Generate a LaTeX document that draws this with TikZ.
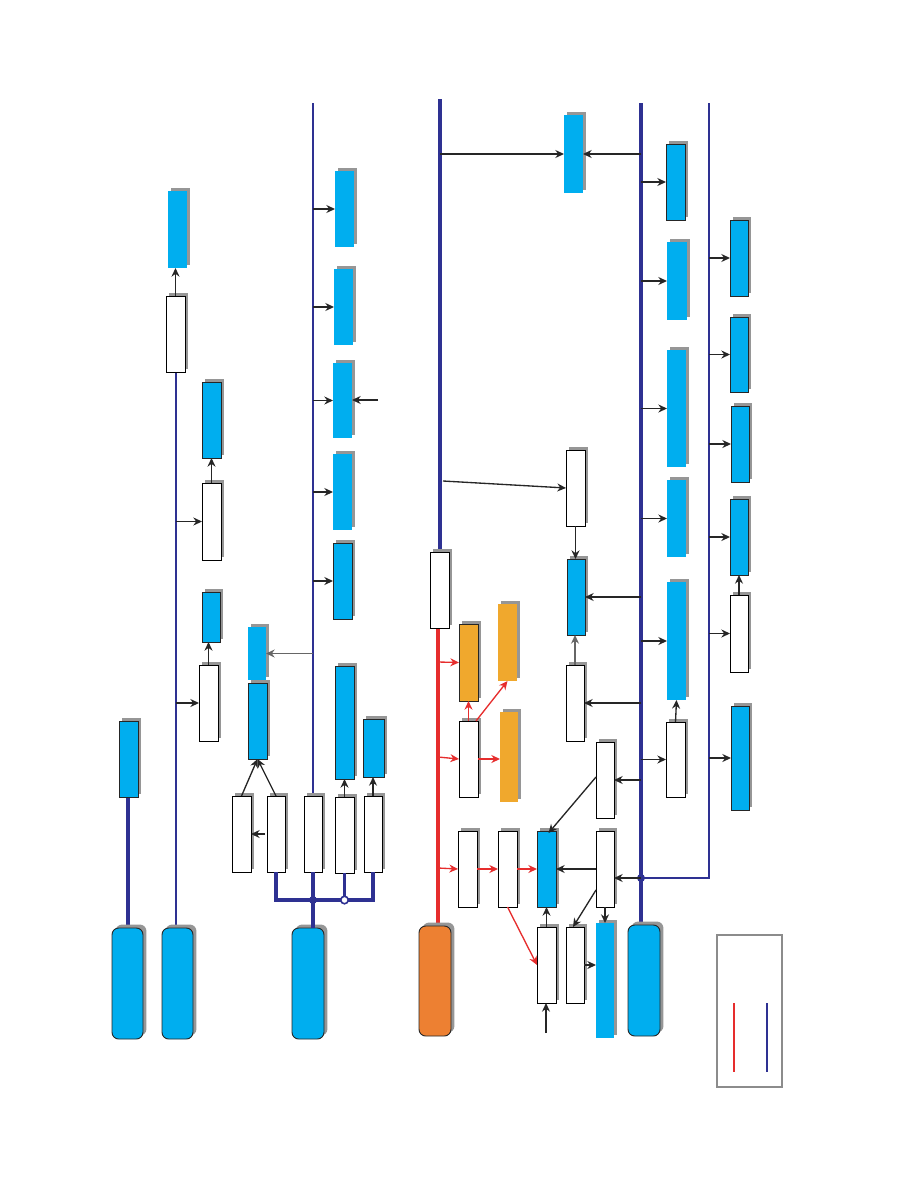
\documentclass[tikz,border=0pt]{standalone}
\usetikzlibrary{arrows.meta,shadows,calc}
\definecolor{cyanb}{RGB}{0,174,239}
\definecolor{orng}{RGB}{240,168,45}
\definecolor{orngdark}{RGB}{237,128,50}
\definecolor{linecol}{RGB}{46,49,146}
\definecolor{redl}{RGB}{230,45,45}
\definecolor{shad}{RGB}{150,150,150}
\newcommand\Bx[6]{\node[#6, minimum width={(#4-#2)*0.75pt}, minimum height={(#5-#3)*0.75pt}] (#1) at ({(#2+#4)/2},{(#3+#5)/2}) {};}
\tikzset{
  boxbase/.style={rectangle, inner sep=0pt, outer sep=0pt, general shadow={fill=shad, shadow xshift=2.6pt, shadow yshift=2.6pt}},
  wbox/.style={boxbase, fill=white, draw=black, line width=0.7pt},
  bbox/.style={boxbase, fill=cyanb, draw=black!85, line width=0.7pt},
  bnob/.style={boxbase, fill=cyanb},
  obox/.style={boxbase, fill=orng, draw=black!85, line width=0.7pt},
  onob/.style={boxbase, fill=orng},
  rbox/.style={boxbase, rounded corners=5pt, fill=cyanb, draw=black!85, line width=0.7pt},
  rorg/.style={boxbase, rounded corners=5pt, fill=orngdark, draw=black!85, line width=0.7pt},
  arr/.style={-{Stealth[length=6.5pt,width=6pt]}, line width=1pt, draw=black!85},
  garr/.style={-{Stealth[length=6.5pt,width=6pt]}, line width=1pt, draw=black!60},
  rarr/.style={-{Stealth[length=6.5pt,width=6pt]}, line width=1pt, draw=redl},
  bl/.style={line width=1.5pt, draw=linecol},
  blt/.style={line width=2.3pt, draw=linecol},
  redline/.style={line width=2.3pt, draw=redl},
}
\begin{document}
\begin{tikzpicture}[x=0.75pt, y=-0.75pt]
\useasboundingbox (0,0) rectangle (918,1188);
% coordinates for free ends
\coordinate (L1t) at (313,103);
\coordinate (L2t) at (440,99);
\coordinate (L3t) at (641,103);
\coordinate (L4t) at (709,103);
\coordinate (j1) at (641,878);
\coordinate (bus) at (0,900);
\coordinate (c3in) at (378,400);
\coordinate (in9) at (546,1033);
% lines drawn first
\draw[blt] (L3t) -- (641,926);
\draw[bl, line width=1.7pt] (L4t) -- (L4t |- j1) -- (j1);
\draw[blt] (L2t) -- (440,552);
\draw[bl] (L1t) -- (313,796);
\draw[bl] (176,372) -- (176,928);
\draw[blt, line width=2.6pt] (128,797) -- (128,928);
\draw[redline] (438,628) -- (438,926);
% rounded boxes
\Bx{R1}{112}{928}{143}{1039}{rbox}
\Bx{R2}{162}{928}{193}{1039}{rbox}
\Bx{R3}{292}{928}{324}{1039}{rbox}
\Bx{R4}{419}{926}{451}{1036}{rorg}
\Bx{R5}{628}{925}{660}{1036}{rbox}
% left columns
\Bx{B0}{119}{721}{138}{797}{bbox}
\Bx{T1}{168}{191}{187}{268}{bnob}
\Bx{T2}{166}{296}{185}{372}{wbox}
\Bx{T3}{202}{382}{221}{458}{bbox}
\Bx{T4}{202}{483}{221}{560}{wbox}
\Bx{T5}{202}{592}{220}{642}{bbox}
\Bx{T6}{199}{665}{218}{741}{wbox}
\Bx{A}{248}{627}{266}{680}{bnob}
\Bx{B}{248}{683}{267}{759}{bbox}
\Bx{W1}{232}{796}{251}{872}{wbox}
\Bx{W2}{267}{796}{285}{872}{wbox}
\Bx{W3}{304}{796}{322}{872}{wbox}
\Bx{W4}{335}{797}{354}{873}{wbox}
\Bx{W5}{364}{796}{382}{872}{wbox}
\Bx{C}{335}{666}{354}{779}{bbox}
\Bx{D}{363}{719}{384}{777}{bbox}
\Bx{C1}{335}{171}{354}{247}{bnob}
\Bx{C2}{334}{269}{353}{345}{bnob}
\Bx{C3}{333}{363}{352}{438}{bnob}
\Bx{C4}{333}{454}{352}{530}{bnob}
\Bx{C5}{333}{543}{352}{619}{bbox}
% middle
\Bx{G1}{430}{552}{449}{628}{wbox}
\Bx{O1}{459}{624}{478}{701}{obox}
\Bx{O2}{498}{604}{517}{681}{onob}
\Bx{O3}{500}{712}{518}{802}{onob}
\Bx{W6}{459}{721}{478}{797}{wbox}
\Bx{W7}{458}{831}{477}{907}{wbox}
\Bx{W8}{498}{831}{517}{907}{wbox}
\Bx{B1}{537}{831}{556}{907}{bbox}
\Bx{W9}{537}{927}{556}{1003}{wbox}
\Bx{W10}{566}{927}{584}{1003}{wbox}
\Bx{B2}{596}{923}{614}{1038}{bnob}
\Bx{W11}{596}{831}{614}{907}{wbox}
\Bx{W12}{596}{742}{614}{818}{wbox}
\Bx{W13}{566}{665}{584}{741}{wbox}
\Bx{B3}{567}{559}{585}{635}{bbox}
\Bx{W14}{566}{450}{585}{526}{wbox}
\Bx{M1}{564}{115}{583}{193}{bnob}
% right
\Bx{E1}{666}{144}{685}{220}{bbox}
\Bx{E2}{667}{242}{687}{320}{bnob}
\Bx{E3}{667}{350}{686}{467}{bnob}
\Bx{E4}{667}{480}{686}{557}{bnob}
\Bx{E5}{667}{582}{686}{700}{bnob}
\Bx{W15}{666}{722}{685}{797}{wbox}
\Bx{F1}{730}{220}{748}{296}{bbox}
\Bx{F2}{730}{317}{748}{392}{bbox}
\Bx{F3}{731}{406}{749}{482}{bbox}
\Bx{F4}{730}{499}{748}{575}{bbox}
\Bx{W16}{730}{595}{748}{672}{wbox}
\Bx{F5}{731}{706}{749}{810}{bbox}
% legend
\node[rectangle, draw=black!45, line width=1.5pt, inner sep=0pt, minimum width={65*0.75pt}, minimum height={152*0.75pt}] (leg) at (749.5,1011) {};
\draw[line width=2pt, draw=redl] (734,1003) -- (734,1072);
\draw[line width=2pt, draw=linecol] (767,1003) -- (767,1072);
% bus near R3
\draw[blt, line width=2.6pt] (W2.south) -- (W2.south |- bus) -- (W5.south |- bus) -- (W5.south);
\draw[blt, line width=2.6pt] (W3.south) -- (W3.south |- bus) -- (W3.south |- R3.north);
\draw[blt, line width=2.6pt] (W4.south) -- (W4.south |- bus);
\fill[linecol] (W3.south |- bus) circle (3pt);
\filldraw[fill=white, draw=linecol, line width=1.2pt] (W4.south |- bus) circle (2.8pt);
% junction right
\fill[linecol] (j1) circle (3pt);
% T column arrows
\draw[arr] (T2.north) -- (T2.north |- T1.south);
\draw[arr] (T4.north) -- (T3.south);
\draw[arr] (T6.north) -- (T6.north |- T5.south);
\draw[arr] (T2.south |- T4.west) -- (T4.west);
\draw[arr] (T2.south |- T6.west) -- (T6.west);
% L1 arrows
\draw[arr] (L1t |- C1.west) -- (C1.west);
\draw[arr] (L1t |- C2.west) -- (C2.west);
\draw[arr] (L1t |- C3.west) -- (C3.west);
\draw[arr] (L1t |- C4.west) -- (C4.west);
\draw[arr] (L1t |- C5.west) -- (C5.west);
\draw[arr] (c3in) -- (c3in -| C3.east);
\draw[garr] (L1t |- A.east) -- (A.east);
\draw[arr] (W1.north) -- (B.south);
\draw[arr] (W2.north) -- (B.south);
\draw[arr] ($(W2.west)+(-2,0)$) -- (W1.east);
\draw[arr] (W4.north) -- (W4.north |- C.south);
\draw[arr] (W5.north) -- (W5.north |- D.south);
% L2 arrows
\draw[arr] (L2t |- M1.west) -- (M1.west);
\draw[arr] (443,481) -- (W14.west);
\draw[arr] (W14.south) -- (W14.south |- B3.north);
\draw[garr] (W13.north) -- (W13.north |- B3.south);
% red arrows
\draw[rarr] (438,662) -- (O1.west);
\draw[rarr] (438,757) -- (W6.west);
\draw[rarr] (438,868) -- (W7.west);
\draw[rarr] (W6.north) -- (O1.south);
\draw[rarr] ($(W6.north east)+(-2,0)$) -- (O2.south);
\draw[rarr] (W6.east) -- (W6.east -| O3.west);
\draw[rarr] (W7.east) -- (W8.west);
\draw[rarr] (W8.east) -- (B1.west);
\draw[rarr] (W8.south) -- (W9.west);
% lower middle black arrows
\draw[arr] (W9.north) -- (B1.south);
\draw[arr] (in9) -- (in9 |- W9.south);
\draw[arr] (W10.east) -- (W10.east -| B2.west);
\draw[arr] (W11.west) -- (B1.east);
\draw[arr] (W11.south) -- (B2.north);
\draw[arr] ($(W11.west)+(0,21)$) -- ($(W10.north)+(-2,0)$);
\draw[arr] ($(W12.west)+(0,-3)$) -- ($(B1.north)+(2,2)$);
\draw[arr] (j1) -- (j1 -| W11.east);
% L3 leftward arrows
\draw[arr] (L3t |- M1.east) -- (M1.east);
\draw[arr] (L3t |- B3.east) -- (B3.east);
\draw[arr] (L3t |- W13.east) -- (W13.east);
\draw[arr] (L3t |- W12.east) -- (W12.east);
% L3 rightward arrows
\draw[arr] (L3t |- E1.west) -- (E1.west);
\draw[arr] (L3t |- E2.west) -- (E2.west);
\draw[arr] (L3t |- E3.west) -- (E3.west);
\draw[arr] (L3t |- E4.west) -- (E4.west);
\draw[arr] (L3t |- E5.west) -- (E5.west);
\draw[arr] (L3t |- W15.west) -- (W15.west);
\draw[arr] (W15.north) -- (E5.south);
% L4 arrows
\draw[arr] (L4t |- F1.west) -- (F1.west);
\draw[arr] (L4t |- F2.west) -- (F2.west);
\draw[arr] (L4t |- F3.west) -- (F3.west);
\draw[arr] (L4t |- F4.west) -- (F4.west);
\draw[arr] (L4t |- W16.west) -- (W16.west);
\draw[arr] (L4t |- F5.west) -- (F5.west);
\draw[arr] (W16.north) -- (F4.south);
\end{tikzpicture}
\end{document}
